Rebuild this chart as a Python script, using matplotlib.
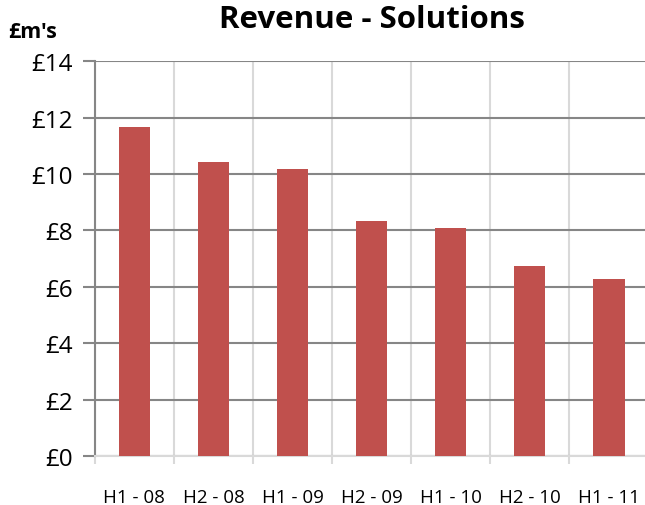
import numpy as np
import matplotlib
matplotlib.use('Agg')
import matplotlib.pyplot as plt

# half-year periods and revenue (in £m)
periods = ['H1 - 08', 'H2 - 08', 'H1 - 09', 'H2 - 09', 'H1 - 10', 'H2 - 10', 'H1 - 11']
revenue = [11.67, 10.42, 10.18, 8.34, 8.09, 6.75, 6.29]
y_ticks = [0, 2, 4, 6, 8, 10, 12, 14]

plt.rcParams['font.family'] = ['Open Sans', 'DejaVu Sans']

fig = plt.figure(figsize=(6.45, 5.06), dpi=100)
ax = fig.add_axes([0.147, 0.097, 0.858, 0.780])

x = np.arange(len(periods))
ax.bar(x, revenue, width=0.4, color='#C0504D', zorder=3)

ax.set_xlim(-0.5, len(periods) - 0.5)
ax.set_ylim(0, 14)
ax.set_yticks(y_ticks)
ax.set_yticklabels(['£%d' % v for v in y_ticks])
ax.set_xticks(x)
ax.set_xticklabels(periods)
ax.set_xticks(np.arange(len(periods) + 1) - 0.5, minor=True)

# gridlines: dark horizontal, light vertical at category boundaries
ax.yaxis.grid(True, color='#868686', linewidth=1.5, zorder=1)
ax.xaxis.grid(True, which='minor', color='#d9d9d9', linewidth=1.5, zorder=1)
ax.xaxis.grid(False, which='major')

for side in ['top', 'right']:
    ax.spines[side].set_visible(False)
ax.spines['left'].set_color('#868686')
ax.spines['left'].set_linewidth(1.5)
ax.spines['bottom'].set_color('#d9d9d9')
ax.spines['bottom'].set_linewidth(1.5)

ax.tick_params(axis='y', length=9, width=1.5, color='#868686', labelsize=17.5, pad=7)
ax.tick_params(axis='x', which='major', length=0, labelsize=13.5, pad=23)
ax.tick_params(axis='x', which='minor', length=6, width=1.5, color='#d9d9d9')

fig.text(0.577, 1 - 20 / 506, 'Revenue - Solutions', ha='center', va='center',
         fontsize=22.5, fontweight='bold')
fig.text(0.012, 1 - 33 / 506, "£m's", ha='left', va='center',
         fontsize=15.5, fontweight='bold')

fig.savefig('out.png', dpi=100)
